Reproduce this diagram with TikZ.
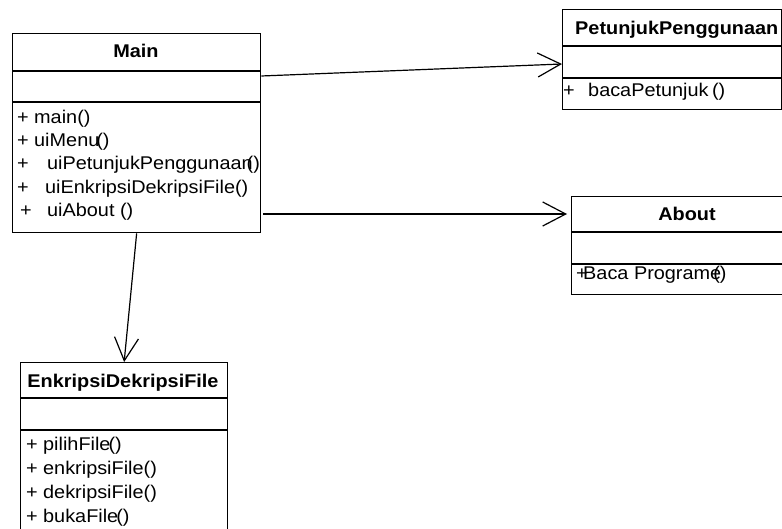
\documentclass[tikz,border=0pt]{standalone}
\usepackage{fontspec}
\setmainfont{Liberation Sans}[FakeStretch=1.08]
\usetikzlibrary{arrows.meta}

\begin{document}
\begin{tikzpicture}[x=1pt,y=-1pt,
  classbox/.style={draw, line width=1.3pt, inner sep=0pt, anchor=north west},
  rule/.style={line width=1.3pt},
  txt/.style={inner sep=0pt, anchor=base west, font=\fontsize{18.4}{21}\selectfont},
  title/.style={inner sep=0pt, anchor=base, font=\fontsize{18.4}{21}\selectfont\bfseries},
  assoc/.style={line width=1.2pt, -{Straight Barb[length=23pt,width=24pt,line width=1.2pt]}}]
\useasboundingbox (0,0) rectangle (782,529);
\clip (0,0) rectangle (782,529);

% class boxes
\node[classbox, minimum width=248pt, minimum height=199pt] (main) at (12,33) {};
\node[classbox, minimum width=219pt, minimum height=100pt] (pp) at (562,9) {};
\node[classbox, minimum width=232pt, minimum height=98pt] (about) at (571,196) {};
\node[classbox, minimum width=207pt, minimum height=200pt] (ed) at (20,362) {};

% compartment rules
\draw[rule] (main.west |- 0,71) -- (main.east |- 0,71);
\draw[rule] (main.west |- 0,102) -- (main.east |- 0,102);
\draw[rule] (pp.west |- 0,46) -- (pp.east |- 0,46);
\draw[rule] (pp.west |- 0,78) -- (pp.east |- 0,78);
\draw[rule] (about.west |- 0,232) -- (about.east |- 0,232);
\draw[rule] (about.west |- 0,264) -- (about.east |- 0,264);
\draw[rule] (ed.west |- 0,398) -- (ed.east |- 0,398);
\draw[rule] (ed.west |- 0,430) -- (ed.east |- 0,430);

% Main
\node[title] (mainT) at (136,58) {Main};
\node[txt] (m1) at (17,124) {\makebox[17pt][l]{+}main()};
\node[txt] (m2) at (17,147) {\makebox[17pt][l]{+}uiMenu\kern-3pt()};
\node[txt] (m3) at (17,170) {\makebox[30pt][l]{+}uiPetunjukPenggunaan\kern-6pt()};
\node[txt] (m4) at (17,194) {\makebox[28pt][l]{+}uiEnkripsiDekripsiFile()};
\node[txt] (m5) at (20,217) {\makebox[27pt][l]{+}uiAbout ()};

% PetunjukPenggunaan
\node[title, anchor=base west] (ppT) at (575,35) {PetunjukPenggunaan};
\node[txt] (pp1) at (563,97) {\makebox[25pt][l]{+}bacaPetunjuk\kern-2pt\ ()};

% About
\node[title] (aboutT) at (687,221) {About};
\node[txt] (ab1) at (576,280) {\makebox[7pt][l]{+}Baca Programe\kern-8pt()};

% EnkripsiDekripsiFile
\node[title] (edT) at (123,387) {EnkripsiDekripsiFile};
\node[txt] (e1) at (26,450) {\makebox[17pt][l]{+}pilihFile\kern-2pt()};
\node[txt] (e2) at (26,474) {\makebox[17pt][l]{+}enkripsiFile()};
\node[txt] (e3) at (26,498) {\makebox[17pt][l]{+}dekripsiFile()};
\node[txt] (e4) at (26,522) {\makebox[17pt][l]{+}bukaFile\kern-2pt()};

% associations
\coordinate (a1s) at (main.east |- 0,76);
\coordinate (a1e) at (pp.west |- 0,64);
\coordinate (a2s) at (263,214);
\coordinate (a2e) at (567,214);
\draw[assoc] (a1s) -- (a1e);
\draw[assoc] (a2s) -- (a2e);
\draw[assoc] (main.south) -- (ed.north);
\end{tikzpicture}
\end{document}
